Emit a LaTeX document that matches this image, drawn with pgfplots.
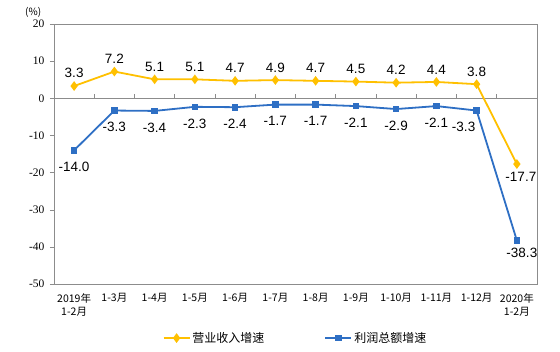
\documentclass[border=0pt]{standalone}
\usepackage{pgfplots}
\pgfplotsset{compat=1.18}
\usepackage{fontspec}
\setmainfont{Liberation Sans}
\newfontfamily\cjk{Noto Sans CJK SC}
\newfontfamily\serifnum{Liberation Serif}
\definecolor{gold}{HTML}{FFC000}
\definecolor{blu}{HTML}{2E6FC4}
\definecolor{frame}{HTML}{8C8C8C}
\begin{document}
\begin{tikzpicture}[x=1pt,y=1pt]
\path[use as bounding box] (-54,-68) rectangle (506,284);
\begin{axis}[
  at={(0,0)}, anchor=south west,
  scale only axis, width=483pt, height=260pt,
  xmin=-0.5, xmax=11.5, ymin=-50, ymax=20,
  ytick={-50,-40,-30,-20,-10,0,10,20},
  xtick={0,...,11},
  xticklabels={{2019年\\1-2月},1-3月,1-4月,1-5月,1-6月,1-7月,1-8月,1-9月,1-10月,1-11月,1-12月,{2020年\\1-2月}},
  x tick label style={font=\cjk\fontsize{10.5}{13.5}\selectfont, align=center, anchor=north, yshift=-2pt},
  xtick style={draw=none},
  y tick label style={font=\serifnum\fontsize{11.5}{12}\selectfont, xshift=-2pt},
  /pgf/number format/assume math mode=true,
  ytick style={frame}, tick align=outside, ytick pos=left,
  major tick length=4pt,
  axis line style={frame, line width=0.8pt},
  clip=false,
  legend style={draw=none, fill=none, legend columns=2, at={(0.5,-0.208)}, anchor=center,
    font=\cjk\fontsize{12}{14}\selectfont, /tikz/every even column/.append style={column sep=58pt}},
  legend image code/.code={\draw[#1, mark repeat=2, mark phase=2] plot coordinates {(0pt,0pt) (13pt,0pt) (26pt,0pt)};},
  nodes near coords={\pgfmathprintnumber[fixed,fixed zerofill,precision=1]{\pgfplotspointmeta}},
  every node near coord/.append style={font=\fontsize{13.5}{15}\selectfont, text=black, inner sep=1pt},
]
\draw[frame, line width=0.8pt] (axis cs:-0.5,0) -- (axis cs:11.5,0);
\pgfplotsinvokeforeach{0.5,1.5,2.5,3.5,4.5,5.5,6.5,7.5,8.5,9.5,10.5}{
  \draw[frame, line width=0.6pt] (axis cs:#1,0) -- (axis cs:#1,1.2);
}
\addplot[gold, line width=1.8pt, mark=diamond*, mark size=3.4pt, mark options={fill=gold, draw=gold},
  nodes near coords align={above}, every node near coord/.append style={yshift=6pt},
  coordinate style/.condition={x==11}{anchor=north, xshift=4pt, yshift=-12pt}]
  coordinates {(0,3.3)(1,7.2)(2,5.1)(3,5.1)(4,4.7)(5,4.9)(6,4.7)(7,4.5)(8,4.2)(9,4.4)(10,3.8)(11,-17.7)};
\addlegendentry{营业收入增速}
\addplot[blu, line width=1.8pt, mark=square*, mark size=2.4pt, mark options={fill=blu, draw=blu},
  nodes near coords align={below}, every node near coord/.append style={yshift=-10pt},
  coordinate style/.condition={x==10}{xshift=-13pt},
  coordinate style/.condition={x==11}{anchor=north, xshift=5pt, yshift=4pt}]
  coordinates {(0,-14.0)(1,-3.3)(2,-3.4)(3,-2.3)(4,-2.4)(5,-1.7)(6,-1.7)(7,-2.1)(8,-2.9)(9,-2.1)(10,-3.3)(11,-38.3)};
\addlegendentry{利润总额增速}
\node[font=\cjk\fontsize{10}{10}\selectfont, anchor=center] at (rel axis cs:-0.043,1.046) {(\%)};
\end{axis}
\end{tikzpicture}
\end{document}
